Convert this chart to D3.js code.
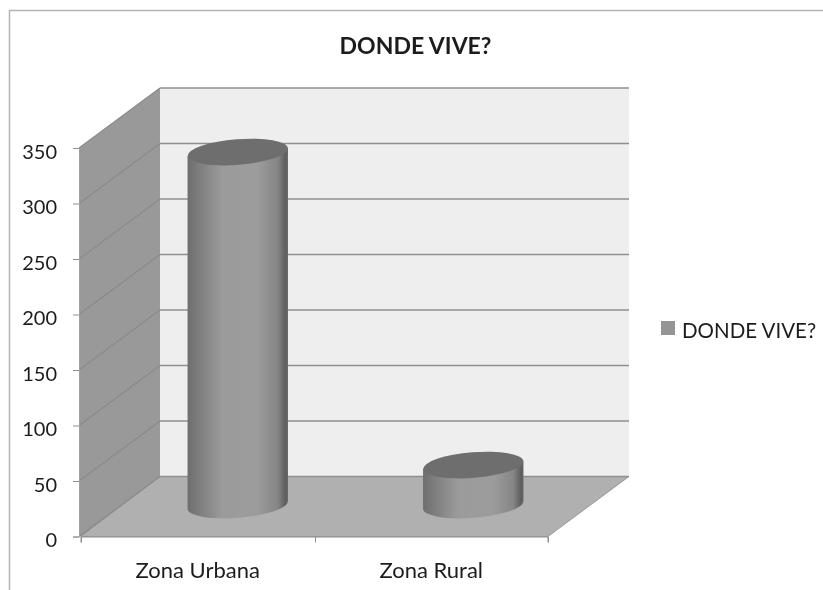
<!DOCTYPE html>
<html>
<head>
<meta charset="utf-8">
<script src="https://cdn.jsdelivr.net/npm/d3@7"></script>
<style>
  html, body { margin: 0; padding: 0; background: #fff; overflow: hidden; }
  text { font-family: Lato, "Open Sans", sans-serif; fill: #1c1c1c; }
</style>
</head>
<body>
<div id="chart"></div>
<script>
var chartTitle = "DONDE VIVE?";
var seriesName = "DONDE VIVE?";
var categories = ["Zona Urbana", "Zona Rural"];
var values = [318, 36];
var yTicks = [0, 50, 100, 150, 200, 250, 300, 350];

var width = 823, height = 590;

// front edge of the box, the back wall is shifted by depth
var x0 = 79, x1 = 548, yBottom = 536.5, yTop = 148;
var depth = {x: 81, y: -60};
var tilt = 4.6; // degrees the ellipses lean

var svg = d3.select("#chart").append("svg")
    .attr("width", width)
    .attr("height", height)
    .style("display", "block");

var defs = svg.append("defs");
var grad = defs.append("linearGradient").attr("id", "cyl");
[[0, "#6e6e6e"], [0.12, "#7e7e7e"], [0.35, "#9b9b9b"], [0.7, "#9c9c9c"], [0.9, "#858585"], [0.97, "#606060"], [1, "#646464"]]
  .forEach(function(s) {
    grad.append("stop").attr("offset", s[0]).attr("stop-color", s[1]);
  });
defs.append("filter").attr("id", "soft")
  .append("feGaussianBlur").attr("stdDeviation", 0.5);
defs.append("filter").attr("id", "softtext")
  .append("feGaussianBlur").attr("stdDeviation", 0.3);

var y = d3.scaleLinear().domain([0, 350]).range([yBottom, yTop]);
var x = d3.scaleBand().domain(categories).range([x0 + 2, x1]);
// the cylinders sit slightly wider apart than the labels
var xBar = d3.scaleBand().domain(categories).range([x0 + 2, x1 + 4]);

// chart frame, cut off on the right and at the bottom
svg.append("path")
    .attr("d", "M9.5,590V10.5H823")
    .attr("fill", "none")
    .attr("stroke", "#b4b4b4")
    .attr("stroke-width", 1.5);

var g = svg.append("g").attr("filter", "url(#soft)");

// back wall
g.append("rect")
    .attr("x", x0 + depth.x)
    .attr("y", y(350) + depth.y)
    .attr("width", x1 - x0)
    .attr("height", y(0) - y(350))
    .attr("fill", "#eeeeee");

// side wall
g.append("polygon")
    .attr("points", [[x0, y(350)], [x0 + depth.x, y(350) + depth.y], [x0 + depth.x, y(0) + depth.y], [x0 + 2, y(0)], [x0, y(0)]].join(" "))
    .attr("fill", "#999999");

// floor
g.append("polygon")
    .attr("points", [[x0 + 2, y(0)], [x1, y(0)], [x1 + depth.x, y(0) + depth.y], [x0 + depth.x, y(0) + depth.y]].join(" "))
    .attr("fill", "#b0b0b0")
    .attr("stroke", "#8e8e8e")
    .attr("stroke-width", 0.8);

// gridlines, back wall then side wall
g.selectAll(".grid").data(yTicks).enter().append("line")
    .attr("class", "grid")
    .attr("x1", x0 + depth.x)
    .attr("x2", x1 + depth.x)
    .attr("y1", function(d) { return y(d) + depth.y; })
    .attr("y2", function(d) { return y(d) + depth.y; })
    .attr("stroke", "#8f8f8f")
    .attr("stroke-width", 1.4);

g.selectAll(".gridside").data(yTicks).enter().append("line")
    .attr("class", "gridside")
    .attr("x1", x0)
    .attr("x2", x0 + depth.x)
    .attr("y1", function(d) { return y(d); })
    .attr("y2", function(d) { return y(d) + depth.y; })
    .attr("stroke", "#8a8a8a")
    .attr("stroke-width", 1.1);

// cylinders
var bars = g.selectAll(".bar")
    .data(categories.map(function(c, i) { return {name: c, value: values[i]}; }))
    .enter().append("g")
    .attr("class", "bar");

var rx = x.bandwidth() * 0.215, ry = 12.8;
var lean = rx * Math.sin(tilt * Math.PI / 180);

function cx(d) { return xBar(d.name) + xBar.bandwidth() / 2 + depth.x / 2 - 1.5; }
function baseY() { return y(0) + depth.y / 2 - 1.5; }

bars.append("path")
    .attr("d", function(d) {
      var c = cx(d), top = y(d.value) + depth.y / 2 - 1.5, b = baseY();
      return "M" + (c - rx) + "," + (top + lean)
        + "L" + (c + rx) + "," + (top - lean)
        + "L" + (c + rx) + "," + (b - lean)
        + "A" + rx + "," + ry + " " + (-tilt) + " 0 1 " + (c - rx) + "," + (b + lean) + "Z";
    })
    .attr("fill", "url(#cyl)");

bars.append("ellipse")
    .attr("rx", rx)
    .attr("ry", ry)
    .attr("transform", function(d) {
      return "translate(" + cx(d) + "," + (y(d.value) + depth.y / 2 - 1.5) + ") rotate(" + (-tilt) + ")";
    })
    .attr("fill", "#6e6e6e");

// axes
var yAxis = svg.append("g")
    .attr("transform", "translate(" + x0 + ",0)")
    .call(d3.axisLeft(y).tickValues(yTicks).tickSize(6).tickPadding(16));
var xAxis = svg.append("g")
    .attr("transform", "translate(0," + y(0) + ")")
    .call(d3.axisBottom(x).tickSize(6).tickPadding(20));

yAxis.select(".domain").attr("stroke", "#a0a0a0");
xAxis.select(".domain").attr("stroke", "#8e8e8e");
yAxis.selectAll(".tick line").attr("stroke", "#909090");
yAxis.selectAll("text").style("font-size", "20px").attr("fill", "#1c1c1c")
    .attr("dy", "0.5em").attr("filter", "url(#softtext)");
xAxis.selectAll("text").style("font-size", "22px").attr("fill", "#1c1c1c")
    .attr("filter", "url(#softtext)");

// category ticks sit on the band edges, not the centres
xAxis.selectAll(".tick line").remove();
xAxis.selectAll(".edge").data([x0 + 2, x(categories[1]) + 1, x1]).enter().append("line")
    .attr("class", "edge")
    .attr("x1", function(d) { return d; })
    .attr("x2", function(d) { return d; })
    .attr("y1", 0)
    .attr("y2", 6)
    .attr("stroke", "#909090");

// title
svg.append("text")
    .attr("x", 415.5)
    .attr("y", 54)
    .attr("text-anchor", "middle")
    .attr("filter", "url(#softtext)")
    .style("font-size", "23px")
    .style("font-weight", "bold")
    .text(chartTitle);

// legend
svg.append("rect")
    .attr("x", 661)
    .attr("y", 321)
    .attr("width", 14)
    .attr("height", 14)
    .attr("filter", "url(#softtext)")
    .attr("fill", "#959595");
svg.append("text")
    .attr("x", 682)
    .attr("y", 338)
    .attr("filter", "url(#softtext)")
    .style("font-size", "20.5px")
    .text(seriesName);
</script>
</body>
</html>
